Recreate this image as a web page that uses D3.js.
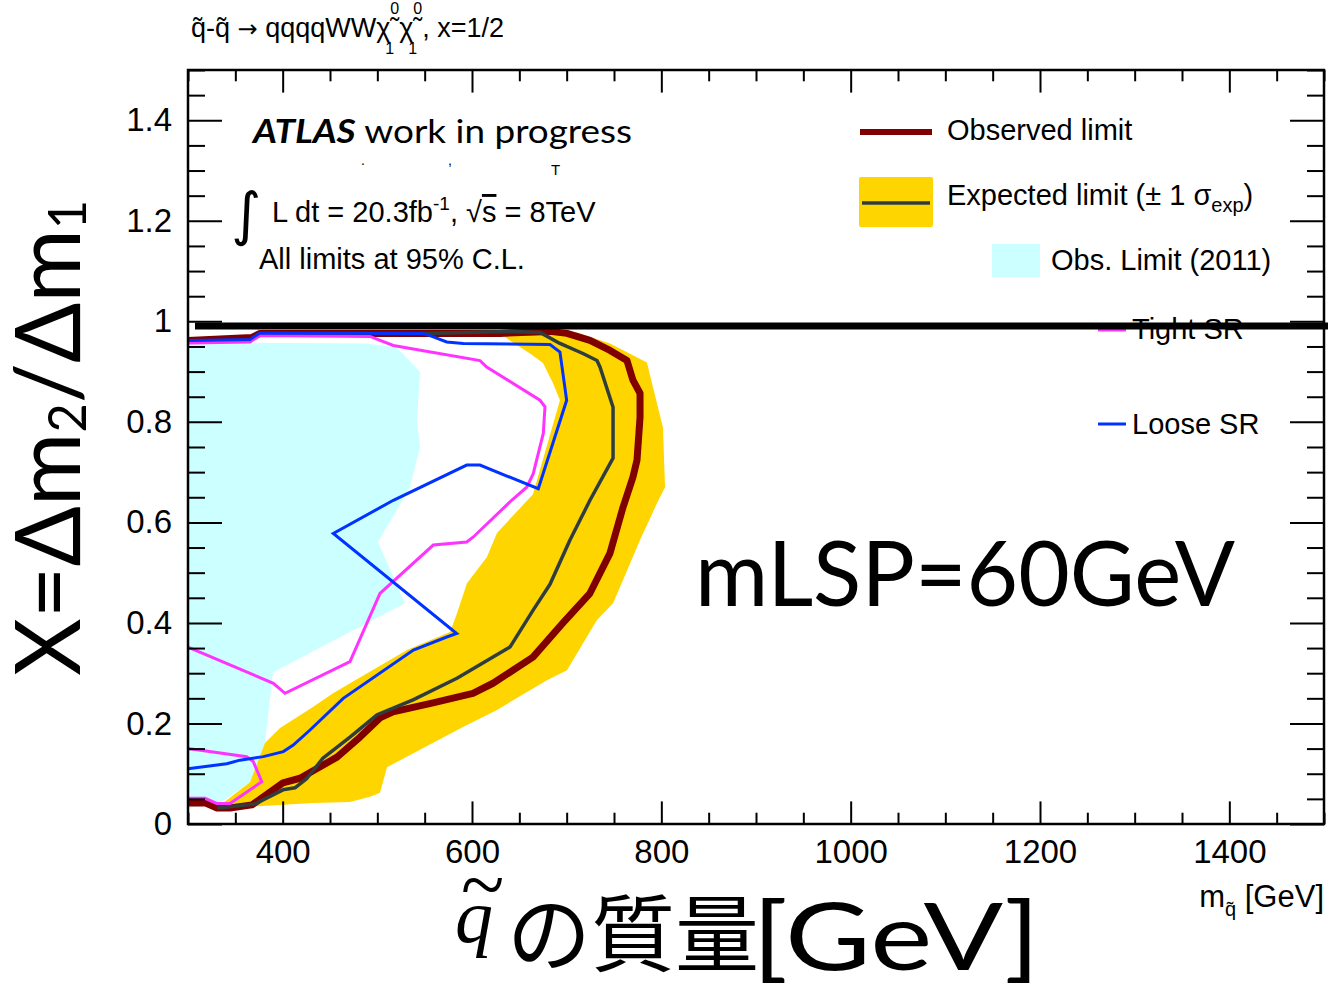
<!DOCTYPE html>
<html>
<head>
<meta charset="utf-8">
<script src="https://cdnjs.cloudflare.com/ajax/libs/d3/7.8.5/d3.min.js"></script>
<style>
  body { margin: 0; background: #fff; }
  svg { display: block; }
  .tick text { font-family: "Liberation Sans", Arial, sans-serif; font-size: 33px; fill: #000; }
  .tick line { stroke: #000; stroke-width: 2; }
</style>
</head>
<body>
<svg id="chart" width="1328" height="984"></svg>
<script>
// [m_squark GeV, x] points
const observed = [
  [300, 0.962], [367.6, 0.968], [376, 0.976], [629.6, 0.976], [682.4, 0.980],
  [700.3, 0.976], [724.6, 0.962], [745.8, 0.942], [763.7, 0.922], [770, 0.883],
  [777.5, 0.857], [777.5, 0.809], [774.3, 0.724], [770, 0.690], [759.5, 0.630],
  [745.8, 0.539], [724.6, 0.459], [696.1, 0.400], [664.4, 0.332], [622.2, 0.280],
  [601, 0.260], [558.8, 0.241], [516.5, 0.223], [502.8, 0.211], [481.7, 0.173],
  [457.4, 0.133], [418.3, 0.091], [400.3, 0.082], [367.6, 0.038], [344.4, 0.032],
  [330.6, 0.032], [318, 0.042], [300, 0.042]
];

const expected = [
  [545, 0.976], [643.3, 0.980], [671.8, 0.978], [692.9, 0.956], [717.2, 0.936],
  [732, 0.922], [735.2, 0.909], [749, 0.829], [749, 0.728], [724.6, 0.644],
  [703.5, 0.565], [682.4, 0.477], [664.4, 0.425], [640.1, 0.352], [584.1, 0.290],
  [537.7, 0.247], [499.6, 0.217], [471.1, 0.173], [442.6, 0.131], [425.7, 0.091],
  [413, 0.072], [400.3, 0.068], [370.8, 0.040], [330.6, 0.032]
];

// +1 sigma side (outer) and -1 sigma side (inner) of the yellow band
const expectedOuter = [
  [634.9, 0.982], [710.9, 0.978], [745.8, 0.956], [784.8, 0.918], [791.2, 0.869],
  [801.7, 0.789], [803.9, 0.670], [795.4, 0.638], [777.5, 0.565], [756.3, 0.471],
  [749, 0.439], [732, 0.406], [700.3, 0.306], [679.2, 0.286], [626.4, 0.227],
  [590.5, 0.193], [510.2, 0.113], [502.8, 0.062], [492.2, 0.054], [471.1, 0.044],
  [432, 0.042], [362.3, 0.034], [333.8, 0.038]
];
const expectedInner = [
  [337, 0.042], [365.5, 0.083], [381.3, 0.161], [397.2, 0.191], [432, 0.233],
  [453.2, 0.260], [531.3, 0.346], [576.8, 0.382], [584.1, 0.419], [594.7, 0.479],
  [615.8, 0.531], [626.4, 0.579], [664.4, 0.656], [692.9, 0.843], [685.6, 0.877],
  [675, 0.917], [661.3, 0.936], [640.1, 0.962], [629.6, 0.976]
];

const obs2011 = [
  [300, 0.958], [489.1, 0.956], [520.8, 0.948], [545.1, 0.899], [541.9, 0.803],
  [545.1, 0.750], [534.5, 0.670], [500.7, 0.561], [529.2, 0.439], [389.8, 0.302],
  [381.3, 0.161], [376.1, 0.101], [365.5, 0.083], [333.8, 0.042], [300, 0.032]
];

const tightSR = [
  [300, 0.957], [365.5, 0.959], [376.1, 0.972], [492.2, 0.970], [516.9, 0.952],
  [608.4, 0.922], [615.5, 0.909], [671.8, 0.843], [677.1, 0.830], [675.3, 0.777],
  [664.7, 0.697], [657.8, 0.670], [641.9, 0.644], [601.4, 0.571], [594.4, 0.561],
  [559.1, 0.555], [502.8, 0.459], [471.1, 0.323], [402.5, 0.260], [390.1, 0.280],
  [300, 0.352]
];
const tightSRLow = [
  [300, 0.150], [362, 0.134], [369, 0.124], [377.9, 0.084], [344.4, 0.041],
  [330.3, 0.041], [318, 0.051], [300, 0.051]
];

const looseSR = [
  [300, 0.962], [365.5, 0.964], [376.1, 0.977], [548.6, 0.976], [559.1, 0.969],
  [573.3, 0.959], [590.8, 0.956], [682.4, 0.954], [692.9, 0.939], [700, 0.843],
  [670, 0.667], [608.4, 0.714], [594.4, 0.714], [516.9, 0.644], [453.5, 0.578],
  [583.8, 0.379], [573.3, 0.372], [538.1, 0.346], [464, 0.250], [428.9, 0.187],
  [411.2, 0.157], [400.7, 0.144], [379.6, 0.134], [354.9, 0.127], [340.9, 0.120],
  [300, 0.110]
];

const xLabels = [400, 600, 800, 1000, 1200, 1400];
const yLabels = [0, 0.2, 0.4, 0.6, 0.8, 1, 1.2, 1.4];

const svg = d3.select('#chart');
const x = d3.scaleLinear().domain([300, 1500]).range([188, 1324]);
const y = d3.scaleLinear().domain([0, 1.5]).range([824, 70]);

const xMinor = d3.range(300, 1501, 50).filter(d => !xLabels.includes(d));
const yMinor = d3.range(0, 31).map(i => i * 0.05).filter(d => Math.round(d * 100) % 20 !== 0);

const line = d3.line().x(d => x(d[0])).y(d => y(d[1]));

// filled areas
svg.append('path').attr('d', line(obs2011) + 'Z').attr('fill', '#ccffff');
svg.append('path').attr('d', line(expectedOuter.concat(expectedInner)) + 'Z').attr('fill', '#ffd500');

svg.append('path').attr('d', line(observed)).attr('fill', 'none')
  .attr('stroke', '#800000').attr('stroke-width', 7).attr('stroke-linejoin', 'round');
svg.append('path').attr('d', line(expected)).attr('fill', 'none')
  .attr('stroke', '#2f3d3d').attr('stroke-width', 3.5).attr('stroke-linejoin', 'round');
[tightSR, tightSRLow].forEach(s => {
  svg.append('path').attr('d', line(s)).attr('fill', 'none')
    .attr('stroke', '#ff33ff').attr('stroke-width', 3);
});
svg.append('path').attr('d', line(looseSR)).attr('fill', 'none')
  .attr('stroke', '#0033ff').attr('stroke-width', 3);

// axes, ROOT style ticks on all four sides
const noLabel = () => '';
const drop = g => g.select('.domain').remove();
svg.append('g').attr('transform', 'translate(0,824)')
  .call(d3.axisBottom(x).tickValues(xLabels).tickSize(-22.6).tickPadding(16).tickFormat(d3.format('d'))).call(drop);
svg.append('g').attr('transform', 'translate(0,824)')
  .call(d3.axisBottom(x).tickValues(xMinor).tickSize(-11.3).tickFormat(noLabel)).call(drop);
svg.append('g').attr('transform', 'translate(0,70)')
  .call(d3.axisTop(x).tickValues(xLabels).tickSize(-22.6).tickFormat(noLabel)).call(drop);
svg.append('g').attr('transform', 'translate(0,70)')
  .call(d3.axisTop(x).tickValues(xMinor).tickSize(-11.3).tickFormat(noLabel)).call(drop);
svg.append('g').attr('transform', 'translate(188,0)')
  .call(d3.axisLeft(y).tickValues(yLabels).tickSize(-34).tickPadding(16).tickFormat(d => String(d))).call(drop);
svg.append('g').attr('transform', 'translate(188,0)')
  .call(d3.axisLeft(y).tickValues(yMinor).tickSize(-17).tickFormat(noLabel)).call(drop);
svg.append('g').attr('transform', 'translate(1324,0)')
  .call(d3.axisRight(y).tickValues(yLabels).tickSize(-34).tickFormat(noLabel)).call(drop);
svg.append('g').attr('transform', 'translate(1324,0)')
  .call(d3.axisRight(y).tickValues(yMinor).tickSize(-17).tickFormat(noLabel)).call(drop);

svg.append('rect').attr('x', 188).attr('y', 70).attr('width', 1136).attr('height', 754)
  .attr('fill', 'none').attr('stroke', '#000').attr('stroke-width', 2.5);

// legend
const sans = '"Liberation Sans", Arial, sans-serif';
const leg = svg.append('g').attr('font-family', sans).attr('font-size', 29);
leg.append('line').attr('x1', 860).attr('x2', 932).attr('y1', 132).attr('y2', 132)
  .attr('stroke', '#800000').attr('stroke-width', 6);
leg.append('text').attr('x', 947).attr('y', 140).text('Observed limit');
leg.append('rect').attr('x', 859).attr('y', 177).attr('width', 74).attr('height', 50).attr('rx', 2)
  .attr('fill', '#ffd500');
leg.append('line').attr('x1', 862).attr('x2', 930).attr('y1', 203).attr('y2', 203)
  .attr('stroke', '#2f3d3d').attr('stroke-width', 3.5);
const expText = leg.append('text').attr('x', 947).attr('y', 205);
expText.append('tspan').text('Expected limit (\u00b1 1 \u03c3');
expText.append('tspan').attr('font-size', 20).attr('dy', 7).text('exp');
expText.append('tspan').attr('dy', -7).text(')');
leg.append('rect').attr('x', 992).attr('y', 244).attr('width', 48).attr('height', 33).attr('fill', '#ccffff');
leg.append('text').attr('x', 1051).attr('y', 270).text('Obs. Limit (2011)');
leg.append('line').attr('x1', 1098).attr('x2', 1126).attr('y1', 330).attr('y2', 330)
  .attr('stroke', '#ff33ff').attr('stroke-width', 3);
leg.append('text').attr('x', 1132).attr('y', 339).text('Tight SR');
leg.append('line').attr('x1', 1098).attr('x2', 1126).attr('y1', 424).attr('y2', 424)
  .attr('stroke', '#0033ff').attr('stroke-width', 3);
leg.append('text').attr('x', 1132).attr('y', 434).text('Loose SR');

// heavy line at x = 1
svg.append('line').attr('x1', 195).attr('x2', 1328).attr('y1', 326).attr('y2', 326)
  .attr('stroke', '#000').attr('stroke-width', 7);

// ATLAS label block
const gill = 'Lato, "Open Sans", sans-serif';
const atl = svg.append('text').attr('x', 253).attr('y', 143).attr('font-family', gill).attr('font-size', 32)
  .attr('textLength', 379).attr('lengthAdjust', 'spacingAndGlyphs');
atl.append('tspan').attr('font-weight', 'bold').attr('font-style', 'italic').text('ATLAS');
atl.append('tspan').text(' work in progress');
svg.append('text').attr('x', 361).attr('y', 165).attr('font-family', sans).attr('font-size', 14).text('.');
svg.append('text').attr('x', 448).attr('y', 165).attr('font-family', sans).attr('font-size', 14).text(',');
svg.append('text').attr('x', 551).attr('y', 175).attr('font-family', sans).attr('font-size', 15).text('T');
svg.append('text').attr('x', 231).attr('y', 234).attr('font-family', '"DejaVu Sans", sans-serif')
  .attr('font-size', 58).text('\u222b');
const lumi = svg.append('text').attr('x', 272).attr('y', 222).attr('font-family', sans).attr('font-size', 29);
lumi.append('tspan').text('L dt = 20.3fb');
lumi.append('tspan').attr('font-size', 19).attr('dy', -12).text('-1');
lumi.append('tspan').attr('dy', 12).text(', \u221a');
lumi.append('tspan').attr('text-decoration', 'overline').text('s');
lumi.append('tspan').text(' = 8TeV');
svg.append('text').attr('x', 259).attr('y', 269).attr('font-family', sans).attr('font-size', 29)
  .text('All limits at 95% C.L.');

// title, one text with stacked super/subscripts
const title = svg.append('text').attr('x', 191).attr('y', 37).attr('font-family', sans)
  .attr('font-size', 27).attr('xml:space', 'preserve').style('white-space', 'pre');
title.append('tspan').text('q\u0303-q\u0303 ');
title.append('tspan').attr('font-family', '"DejaVu Sans", sans-serif').attr('font-size', 24).text('\u2192');
title.append('tspan').text(' qqqqWW\u03c7\u0303');
title.append('tspan').attr('font-size', 16).attr('dy', -23).text('0');
title.append('tspan').attr('font-size', 16).attr('dx', -14).attr('dy', 40).text('1');
title.append('tspan').attr('dx', 5).attr('dy', -17).text('\u03c7\u0303');
title.append('tspan').attr('font-size', 16).attr('dy', -23).text('0');
title.append('tspan').attr('font-size', 16).attr('dx', -14).attr('dy', 40).text('1');
title.append('tspan').attr('dx', 5).attr('dy', -17).text(', x=1/2');

// big annotation
svg.append('text').attr('x', 695).attr('y', 606).attr('font-family', gill).attr('font-size', 92)
  .attr('textLength', 540).attr('lengthAdjust', 'spacingAndGlyphs').text('mLSP=60GeV');

// y axis title
const yt = svg.append('text').attr('transform', 'translate(80,438) rotate(-90)')
  .attr('text-anchor', 'middle').attr('font-family', gill).attr('font-size', 92)
  .attr('textLength', 476).attr('lengthAdjust', 'spacingAndGlyphs');
yt.append('tspan').text('X=\u0394m');
yt.append('tspan').attr('font-size', 52).attr('dy', 6).text('2');
yt.append('tspan').attr('dy', -6).text('/\u0394m');
yt.append('tspan').attr('font-size', 52).attr('dy', 6).text('1');

// x axis titles
svg.append('text').attr('x', 461).attr('y', 912).attr('font-family', '"Liberation Serif", serif')
  .attr('font-size', 80).text('~');
svg.append('text').attr('x', 455).attr('y', 942).attr('font-family', '"Liberation Serif", serif')
  .attr('font-style', 'italic').attr('font-size', 76).text('q');
svg.append('text').attr('x', 507).attr('y', 965).attr('font-family', '"Noto Sans CJK JP", sans-serif')
  .attr('font-size', 84).text('\u306e\u8cea\u91cf');
svg.append('text').attr('x', 752).attr('y', 970).attr('font-family', gill).attr('font-size', 93)
  .attr('textLength', 288).attr('lengthAdjust', 'spacingAndGlyphs').text('[GeV]');

const mt = svg.append('text').attr('x', 1324).attr('y', 907).attr('text-anchor', 'end')
  .attr('font-family', sans).attr('font-size', 31);
mt.append('tspan').text('m');
mt.append('tspan').attr('font-size', 20).attr('dy', 9).text('q\u0303');
mt.append('tspan').attr('dy', -9).text(' [GeV]');
</script>
</body>
</html>
